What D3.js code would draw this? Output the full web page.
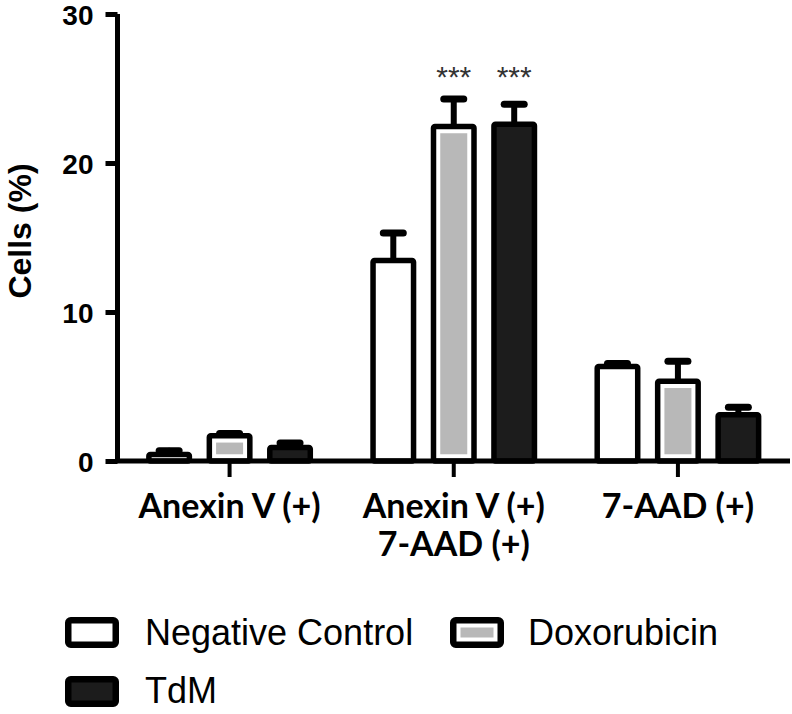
<!DOCTYPE html>
<html>
<head>
<meta charset="utf-8">
<script src="https://cdn.jsdelivr.net/npm/d3@7"></script>
<style>
  html, body { margin: 0; padding: 0; background: #fff; }
  svg { display: block; }
</style>
</head>
<body>
<svg id="chart" width="792" height="714"></svg>
<script>
// ---------------- data ----------------
const categories = ["Anexin V (+)", "Anexin V (+) 7-AAD (+)", "7-AAD (+)"];
const categoryLines = [["Anexin V (+)"], ["Anexin V (+)", "7-AAD (+)"], ["7-AAD (+)"]];
const seriesNames = ["Negative Control", "Doxorubicin", "TdM"];
const negMeans = [0.44, 13.45, 6.35];
const negErr   = [0.25, 1.85, 0.2];
const doxMeans = [1.69, 22.45, 5.35];
const doxErr   = [0.15, 1.85, 1.35];
const tdmMeans = [0.9, 22.6, 3.1];
const tdmErr   = [0.3, 1.35, 0.5];
const doxSig = ["", "***", ""];
const tdmSig = ["", "***", ""];
const yTicks = [0, 10, 20, 30];
const yTitle = "Cells (%)";

const seriesFill = ["#ffffff", "#ffffff", "#1c1c1c"];
const seriesInner = [null, "#b8b8b8", null];

const seriesData = [
  { name: seriesNames[0], means: negMeans, errs: negErr, sig: ["", "", ""] },
  { name: seriesNames[1], means: doxMeans, errs: doxErr, sig: doxSig },
  { name: seriesNames[2], means: tdmMeans, errs: tdmErr, sig: tdmSig }
];

// ---------------- layout ----------------
const svg = d3.select("#chart");
const axisX = 117.5, axisY = 461, xRight = 790, yTop = 14;

const y = d3.scaleLinear().domain([0, 30]).range([axisY, yTop]);
const x0 = d3.scaleBand().domain(categories).range([axisX, xRight]).padding(0);
const x1 = d3.scaleBand().domain(seriesNames).range([0, x0.bandwidth()])
  .paddingInner(0).paddingOuter(0.354);
const barW = x1.bandwidth() * 0.67;
const SW = 5.5;

const rows = [];
seriesData.forEach((s, si) => {
  categories.forEach((c, ci) => {
    rows.push({ cat: c, ci, si, name: s.name, v: s.means[ci], e: s.errs[ci], sig: s.sig[ci] });
  });
});
const cx = d => x0(d.cat) + x1(d.name) + x1.bandwidth() / 2;

const g = svg.append("g");

// error bars
const eb = g.append("g").attr("stroke", "#000").attr("stroke-linecap", "round").attr("fill", "none");
eb.selectAll("line.stem").data(rows).join("line")
  .attr("class", "stem")
  .attr("x1", cx).attr("x2", cx)
  .attr("y1", d => y(d.v)).attr("y2", d => y(d.v + d.e))
  .attr("stroke-width", 6);
eb.selectAll("line.cap").data(rows).join("line")
  .attr("class", "cap")
  .attr("x1", d => cx(d) - 10).attr("x2", d => cx(d) + 10)
  .attr("y1", d => y(d.v + d.e)).attr("y2", d => y(d.v + d.e))
  .attr("stroke-width", 7);

// bars
g.append("g").selectAll("rect.bar").data(rows).join("rect")
  .attr("class", "bar")
  .attr("x", d => cx(d) - barW / 2)
  .attr("y", d => y(d.v))
  .attr("width", barW)
  .attr("height", d => y(0) - y(d.v))
  .attr("rx", 1.5)
  .attr("fill", d => seriesFill[d.si])
  .attr("stroke", "#000")
  .attr("stroke-width", SW)
  .attr("stroke-linejoin", "round");

// inner grey fill for doxorubicin
const inset = SW / 2 + 4;
g.append("g").selectAll("rect.inner").data(rows.filter(d => seriesInner[d.si]))
  .join("rect")
  .attr("x", d => cx(d) - barW / 2 + inset)
  .attr("y", d => y(d.v) + inset)
  .attr("width", barW - 2 * inset)
  .attr("height", d => Math.max(0, y(0) - y(d.v) - 2 * inset))
  .attr("fill", d => seriesInner[d.si]);

// significance stars (same height for the group)
const sigRows = rows.filter(d => d.sig);
sigRows.forEach(d => {
  const groupTop = d3.max(rows.filter(r => r.ci === d.ci), r => r.v + r.e);
  g.append("text")
    .attr("x", cx(d))
    .attr("y", y(groupTop) - 12)
    .attr("text-anchor", "middle")
    .attr("font-family", "Liberation Sans, Arial, sans-serif")
    .attr("font-size", 30)
    .attr("fill", "#333")
    .text(d.sig);
});

// y axis
const yAxis = d3.axisLeft(y).tickValues(yTicks).tickSize(12).tickPadding(12).tickFormat(d3.format("d"));
const ya = svg.append("g").attr("transform", `translate(${axisX},0)`).call(yAxis);
ya.select(".domain").attr("stroke", "#000").attr("stroke-width", 5).attr("d", `M0,${yTop}V${axisY}`);
ya.selectAll(".tick line").attr("stroke", "#000").attr("stroke-width", 5);
ya.selectAll(".tick text")
  .attr("dy", "0.38em")
  .attr("font-family", "Liberation Sans, Arial, sans-serif")
  .attr("font-weight", "bold")
  .attr("font-size", 28)
  .attr("fill", "#000");

// x axis
const xAxis = d3.axisBottom(x0).tickSize(16).tickFormat("");
const xa = svg.append("g").attr("transform", `translate(0,${axisY})`).call(xAxis);
xa.select(".domain").attr("stroke", "#000").attr("stroke-width", 5).attr("d", `M${axisX - 2.5},0H${xRight}`);
xa.selectAll(".tick line").attr("stroke", "#000").attr("stroke-width", 4);

// category labels
categories.forEach((c, i) => {
  const t = svg.append("text")
    .attr("x", x0(c) + x0.bandwidth() / 2)
    .attr("y", 518)
    .attr("text-anchor", "middle")
    .attr("font-family", "Lato, 'Open Sans', sans-serif")
    .attr("font-weight", "bold")
    .attr("font-size", 34)
    .attr("fill", "#000");
  categoryLines[i].forEach((line, li) => {
    t.append("tspan").attr("x", x0(c) + x0.bandwidth() / 2).attr("dy", li === 0 ? 0 : 38).text(line);
  });
});

// y title
svg.append("text")
  .attr("transform", `translate(31,231) rotate(-90)`)
  .attr("text-anchor", "middle")
  .attr("font-family", "Liberation Sans, Arial, sans-serif")
  .attr("font-weight", "bold")
  .attr("font-size", 32)
  .attr("fill", "#000")
  .text(yTitle);

// legend
const legendPos = [
  { bx: 65, by: 617, tx: 145, ty: 645 },
  { bx: 450, by: 617, tx: 528, ty: 645 },
  { bx: 65, by: 676, tx: 145, ty: 703 }
];
const LW = 54, LH = 31, LS = 6.5;
const lg = svg.append("g");
seriesNames.forEach((name, i) => {
  const p = legendPos[i];
  lg.append("rect")
    .attr("x", p.bx + LS / 2).attr("y", p.by + LS / 2)
    .attr("width", LW - LS).attr("height", LH - LS)
    .attr("rx", 2.5)
    .attr("fill", seriesFill[i]).attr("stroke", "#000").attr("stroke-width", LS)
    .attr("stroke-linejoin", "round");
  if (seriesInner[i]) {
    lg.append("rect")
      .attr("x", p.bx + LS + 4).attr("y", p.by + LS + 4)
      .attr("width", LW - 2 * LS - 8).attr("height", LH - 2 * LS - 8)
      .attr("fill", seriesInner[i]);
  }
  lg.append("text")
    .attr("x", p.tx).attr("y", p.ty)
    .attr("font-family", "Liberation Sans, Arial, sans-serif")
    .attr("font-size", 36)
    .attr("fill", "#000")
    .text(name);
});
</script>
</body>
</html>
